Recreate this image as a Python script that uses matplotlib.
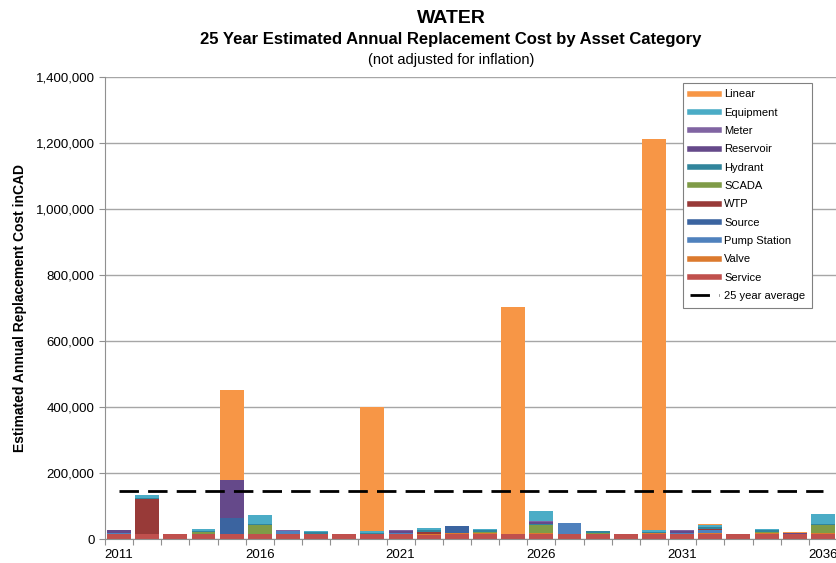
import matplotlib.pyplot as plt
from matplotlib.lines import Line2D
from matplotlib.ticker import FuncFormatter
import numpy as np

plt.rcParams["font.family"] = ["Liberation Sans", "DejaVu Sans"]

years = list(range(2011, 2037))
tick_years = ["2011", "2016", "2021", "2026", "2031", "2036"]

# values in thousands of CAD
service = [15, 15, 15, 15, 15, 15, 15, 15, 15, 15, 15, 14, 15, 15, 15, 15, 15, 15, 15, 15, 15, 15, 15, 15, 15, 15]
valve = [1, 2, 0, 2, 0, 2, 0, 2, 0, 2, 0, 3, 3, 3, 0, 3, 0, 2, 0, 3, 0, 3, 0, 3, 0, 3]
pump_station = [4, 0, 0, 0, 0, 0, 9, 0, 0, 0, 5, 0, 0, 0, 0, 0, 33, 0, 0, 0, 5, 9, 0, 0, 0, 0]
source = [0, 0, 0, 0, 49, 0, 0, 0, 0, 0, 0, 0, 22, 0, 0, 0, 0, 0, 0, 0, 0, 0, 0, 0, 0, 0]
wtp = [0, 105, 0, 0, 0, 0, 2, 0, 0, 0, 0, 6, 0, 0, 0, 0, 0, 0, 0, 0, 0, 5, 0, 0, 0, 0]
scada = [0, 0, 0, 5, 0, 25, 0, 0, 0, 0, 0, 0, 0, 5, 0, 24, 0, 3, 0, 0, 0, 0, 0, 5, 0, 24]
hydrant = [0, 4, 0, 4, 0, 5, 0, 4, 0, 3, 0, 6, 0, 4, 0, 5, 0, 4, 0, 5, 0, 6, 0, 4, 0, 5]
reservoir = [7, 0, 0, 0, 115, 0, 0, 0, 0, 0, 4, 0, 0, 0, 0, 5, 0, 0, 0, 0, 4, 0, 0, 0, 4, 0]
meter = [2, 0, 2, 0, 2, 0, 2, 0, 1, 0, 3, 0, 0, 0, 0, 3, 0, 0, 0, 0, 3, 0, 0, 0, 1, 0]
equipment = [0, 8, 0, 5, 0, 28, 0, 4, 0, 5, 0, 5, 0, 3, 0, 31, 0, 2, 0, 4, 0, 6, 0, 3, 0, 31]
linear = [0, 0, 0, 0, 270, 0, 0, 0, 0, 375, 0, 0, 0, 0, 689, 0, 2, 0, 1, 1185, 1, 2, 1, 0, 1, 0]
average = 147  # 25 year average, thousands

# bottom to top stacking order
series = [
    ("Service", service, "#C0504D"),
    ("Valve", valve, "#DC7A2E"),
    ("Pump Station", pump_station, "#4F81BD"),
    ("Source", source, "#3B64A0"),
    ("WTP", wtp, "#983A38"),
    ("SCADA", scada, "#7F9B47"),
    ("Hydrant", hydrant, "#31859C"),
    ("Reservoir", reservoir, "#65498A"),
    ("Meter", meter, "#8064A2"),
    ("Equipment", equipment, "#4BACC6"),
    ("Linear", linear, "#F79646"),
]

fig = plt.figure(figsize=(8.37, 5.63), dpi=100)
ax = fig.add_axes([0.1254, 0.0421, 0.8746, 0.8206])

x = np.arange(len(years))
bottom = np.zeros(len(years))
for name, vals, color in series:
    v = np.array(vals) * 1000.0
    ax.bar(x, v, bottom=bottom, width=0.85, color=color, linewidth=0)
    bottom += v

ax.plot(x, [average * 1000] * len(x), color="black", lw=2, linestyle=(0, (7, 3.3)))

# axes
ax.set_ylim(0, 1400000)
ax.set_yticks(np.arange(0, 1400001, 200000))
ax.yaxis.set_major_formatter(FuncFormatter(lambda v, p: f"{int(v):,}"))
ax.set_xlim(-0.5, 25.37)
ax.set_xticks(np.arange(-0.5, 26, 1))
ax.set_xticklabels([])
ax.set_xticks([years.index(int(t)) for t in tick_years], minor=True)
ax.set_xticklabels(tick_years, minor=True)
ax.tick_params(axis="x", which="major", length=4, color="#909090")
ax.tick_params(axis="x", which="minor", length=0, labelsize=9.5, pad=7)
ax.tick_params(axis="y", length=4, color="#909090", labelsize=9.5)
ax.grid(axis="y", color="#A6A6A6", lw=1)
ax.set_axisbelow(True)
for s in ["top", "right"]:
    ax.spines[s].set_visible(False)
for s in ["left", "bottom"]:
    ax.spines[s].set_color("#909090")

ax.set_ylabel("Estimated Annual Replacement Cost inCAD", fontsize=10, fontweight="bold", labelpad=6)

# titles
fig.text(0.539, 0.967, "WATER", ha="center", va="center", fontsize=14, fontweight="bold")
fig.text(0.539, 0.929, "25 Year Estimated Annual Replacement Cost by Asset Category",
         ha="center", va="center", fontsize=12, fontweight="bold")
fig.text(0.539, 0.893, "(not adjusted for inflation)", ha="center", va="center", fontsize=10.5)

# legend
handles = [Line2D([0], [0], color=c, lw=4) for _, _, c in reversed(series)]
labels = [n for n, _, _ in reversed(series)]
handles.append(Line2D([0], [0], color="black", lw=2, linestyle=(0, (7, 3.3))))
labels.append("25 year average")
leg = ax.legend(handles, labels, loc="upper right", bbox_to_anchor=(0.970, 0.853),
                bbox_transform=fig.transFigure, fontsize=8, frameon=True, fancybox=False,
                edgecolor="#808080", framealpha=1, labelspacing=0.75, handlelength=2.6,
                handletextpad=0.5, borderpad=0.6, borderaxespad=0)
leg.get_frame().set_linewidth(0.8)

fig.savefig("out.png", dpi=100)
